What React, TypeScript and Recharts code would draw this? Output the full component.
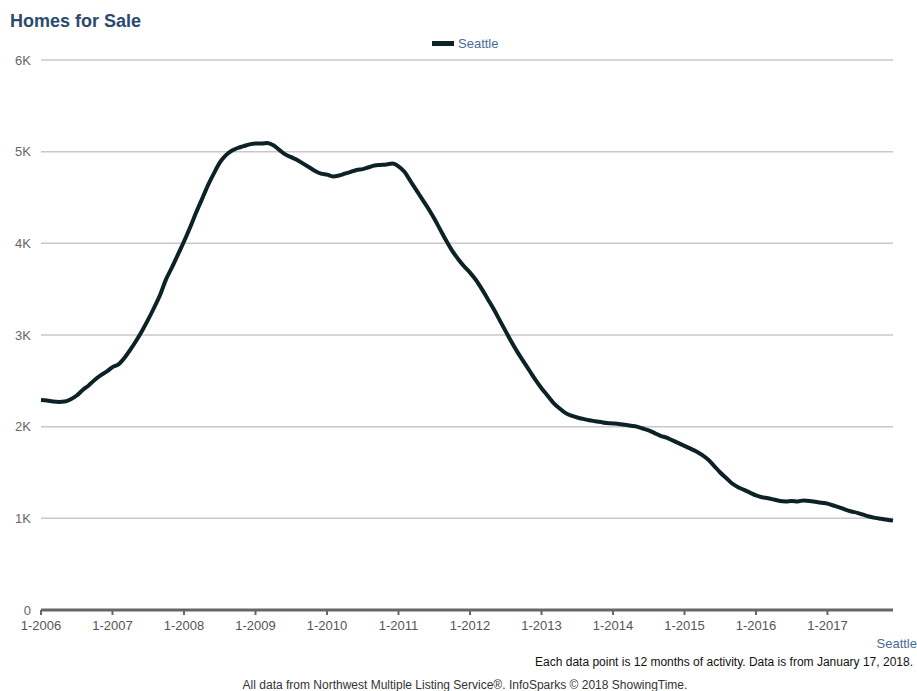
import React from 'react';
import { LineChart, Line, XAxis, YAxis, CartesianGrid } from 'recharts';

// first year of the series, one point per month
const startYear = 2006;

const seattle = [
  2290, 2285, 2275, 2270, 2275, 2300, 2340, 2400, 2450, 2510, 2560, 2600,
  2650, 2680, 2750, 2840, 2940, 3050, 3170, 3300, 3440, 3610, 3740, 3880,
  4020, 4170, 4330, 4480, 4630, 4760, 4880, 4960, 5010, 5040, 5060, 5080,
  5090, 5090, 5095, 5070, 5020, 4970, 4940, 4910, 4870, 4830, 4790, 4760,
  4750, 4730, 4740, 4760, 4780, 4800, 4810, 4830, 4850, 4855, 4860, 4870,
  4840, 4780, 4680, 4580, 4480, 4380, 4270, 4150, 4030, 3920, 3830, 3750,
  3680, 3600, 3500, 3390, 3280, 3160, 3040, 2920, 2810, 2710, 2610, 2510,
  2420, 2340, 2260, 2200, 2150, 2120, 2100, 2085, 2070, 2060, 2050, 2040,
  2035, 2030, 2020, 2010, 2000, 1980, 1960, 1930, 1900, 1880, 1850, 1820,
  1790, 1760, 1730, 1690, 1640, 1570, 1500, 1440, 1380, 1340, 1310, 1280,
  1250, 1230, 1220, 1205, 1190, 1185, 1190, 1185, 1195, 1190, 1180, 1170,
  1160, 1140, 1120, 1095, 1075, 1060, 1040, 1020, 1005, 995, 985, 975,
];

const yTicks = [0, 1000, 2000, 3000, 4000, 5000, 6000];

const months = seattle.map((_, i) => `${(i % 12) + 1}-${startYear + Math.floor(i / 12)}`);

const data = months.map((m, i) => ({ month: m, seattle: seattle[i] }));

const font = '"Liberation Sans", Arial, sans-serif';

const App: React.FC = () => {
  return (
    <div style={{ position: 'absolute', left: 0, top: 0, width: 917, height: 691, background: '#fff', fontFamily: font }}>
      <div style={{ position: 'absolute', left: 10, top: 11, fontSize: 18, fontWeight: 'bold', color: '#2b4a6f' }}>
        Homes for Sale
      </div>

      <div style={{ position: 'absolute', left: 432, top: 36, display: 'flex', alignItems: 'center', fontSize: 13, color: '#4a6b96' }}>
        <span style={{ display: 'inline-block', width: 22, height: 5, background: '#0d2226', marginRight: 4 }} />
        Seattle
      </div>

      <div style={{ position: 'absolute', top: 0, left: 0 }}>
        <LineChart width={917} height={691} data={data} margin={{ top: 60, right: 24, bottom: 51, left: 0 }}>
          <CartesianGrid vertical={false} stroke="#c8c8c8" strokeWidth={1.5} />
          <XAxis
            dataKey="month"
            interval={11}
            axisLine={{ stroke: '#666', strokeWidth: 3 }}
            tickLine={{ stroke: '#666', strokeWidth: 2 }}
            tickSize={5}
            tickMargin={6}
            height={30}
            tick={{ fill: '#555', fontSize: 13, fontFamily: font }}
          />
          <YAxis
            width={41}
            domain={[0, 6000]}
            ticks={yTicks}
            axisLine={false}
            tickLine={false}
            tickSize={8}
            tickFormatter={(v: number) => (v === 0 ? '0' : `${v / 1000}K`)}
            tick={{ fill: '#666', fontSize: 13, fontFamily: font }}
          />
          <Line
            type="monotone"
            dataKey="seattle"
            stroke="#0d2226"
            strokeWidth={4}
            dot={false}
            isAnimationActive={false}
          />
        </LineChart>
      </div>

      <div style={{ position: 'absolute', right: 0, top: 636, fontSize: 13, color: '#4a6b96' }}>Seattle</div>
      <div style={{ position: 'absolute', right: 4, top: 655, fontSize: 12, color: '#111' }}>
        Each data point is 12 months of activity. Data is from January 17, 2018.
      </div>
      <div style={{ position: 'absolute', left: 0, width: 930, textAlign: 'center', top: 678, fontSize: 12, color: '#333' }}>
        All data from Northwest Multiple Listing Service®. InfoSparks © 2018 ShowingTime.
      </div>
    </div>
  );
};

export default App;
